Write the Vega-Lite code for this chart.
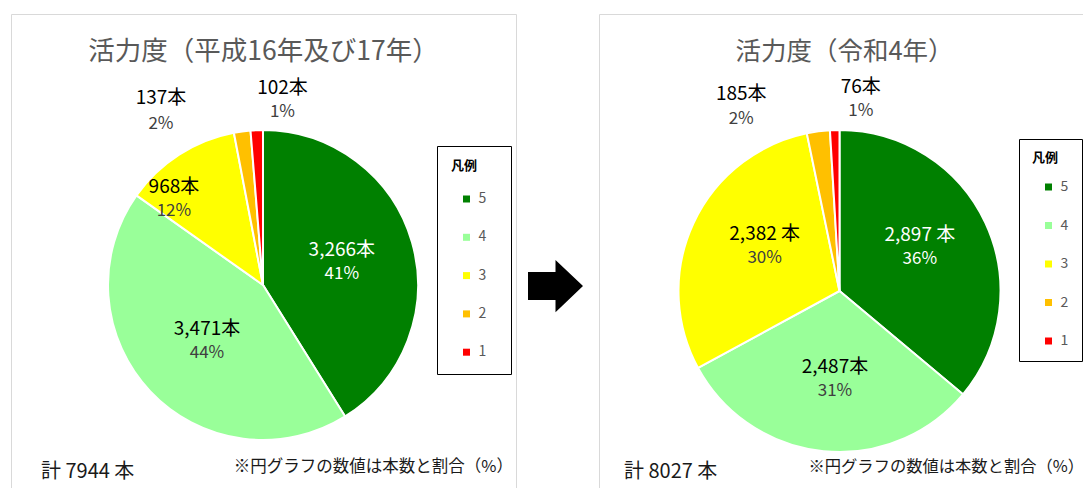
{
  "$schema": "https://vega.github.io/schema/vega-lite/v6.json",
  "padding": {"left": 10, "top": 13, "right": 0, "bottom": 0},
  "background": "white",
  "spacing": 0,
  "bounds": "flush",
  "config": {
    "font": "Noto Sans CJK JP",
    "view": {"stroke": "#d9d9d9", "strokeWidth": 1},
    "legend": {
      "titleFontSize": 13, "titleFontWeight": "bold", "titleColor": "black", "titleFont": "Noto Sans CJK JP",
      "labelFontSize": 14, "labelColor": "#595959", "labelFont": "Noto Sans CJK JP",
      "symbolType": "square", "symbolSize": 49, "symbolStrokeWidth": 0,
      "strokeColor": "black", "fillColor": "white", "labelOffset": 5
    }
  },
  "datasets": {
    "h16": [
      {"level": "5", "value": 3266, "count": "3,266本", "pct": "41%"},
      {"level": "4", "value": 3471, "count": "3,471本", "pct": "44%"},
      {"level": "3", "value": 968, "count": "968本", "pct": "12%"},
      {"level": "2", "value": 137, "count": "137本", "pct": "2%"},
      {"level": "1", "value": 102, "count": "102本", "pct": "1%"}
    ],
    "r4": [
      {"level": "5", "value": 2897, "count": "2,897 本", "pct": "36%"},
      {"level": "4", "value": 2487, "count": "2,487本", "pct": "31%"},
      {"level": "3", "value": 2382, "count": "2,382 本", "pct": "30%"},
      {"level": "2", "value": 185, "count": "185本", "pct": "2%"},
      {"level": "1", "value": 76, "count": "76本", "pct": "1%"}
    ]
  },
  "resolve": {"scale": {"color": "independent"}, "legend": {"color": "independent"}},
  "hconcat": [
    {
      "width": 505, "height": 475,
      "view": {"stroke": "#d9d9d9", "strokeWidth": 1},
      "title": {"text": "活力度（平成16年及び17年）", "fontSize": 26.5, "fontWeight": "normal", "color": "#595959", "anchor": "middle", "offset": -51, "font": "Noto Sans CJK JP"},
      "data": {"name": "h16"},
      "layer": [
        {
          "mark": {"type": "arc", "x": 252, "y": 271, "radius": 155, "stroke": "white", "strokeWidth": 2},
          "encoding": {
            "theta": {"field": "value", "type": "quantitative", "stack": true},
            "order": {"field": "level", "type": "ordinal", "sort": "descending"},
            "color": {"field": "level", "type": "nominal",
              "scale": {"domain": ["5", "4", "3", "2", "1"], "range": ["#008000", "#99ff99", "#ffff00", "#ffc000", "#ff0000"]},
              "legend": {"title": "凡例", "orient": "none", "legendX": 426, "legendY": 132, "padding": 14, "titlePadding": 19, "rowPadding": 24.3, "symbolOffset": 8.5, "labelExpr": "datum.label + '\u2800'"}}
          }
        },
        {
          "mark": {"type": "text", "x": 252, "y": 271, "fontSize": 19, "align": "center", "baseline": "middle",
            "radius": {"expr": "datum.level=='5'?82:datum.level=='4'?77:datum.level=='3'?124:datum.level=='2'?201:187"},
            "dx": {"expr": "datum.level=='3'?-22:datum.level=='2'?-75:datum.level=='1'?27:0"},
            "dy": {"expr": "-12+(datum.level=='3'?18:datum.level=='2'?24:datum.level=='1'?2:datum.level=='4'?3:0)"}},
          "encoding": {
            "theta": {"field": "value", "type": "quantitative", "stack": true},
            "order": {"field": "level", "type": "ordinal", "sort": "descending"},
            "text": {"field": "count"},
            "color": {"condition": {"test": "datum.level=='5'", "value": "white"}, "value": "black"}
          }
        },
        {
          "mark": {"type": "text", "x": 252, "y": 271, "fontSize": 17, "align": "center", "baseline": "middle",
            "radius": {"expr": "datum.level=='5'?82:datum.level=='4'?77:datum.level=='3'?124:datum.level=='2'?201:187"},
            "dx": {"expr": "datum.level=='3'?-22:datum.level=='2'?-75:datum.level=='1'?27:0"},
            "dy": {"expr": "12+(datum.level=='3'?18:datum.level=='2'?26:datum.level=='1'?2:datum.level=='4'?3:0)"}},
          "encoding": {
            "theta": {"field": "value", "type": "quantitative", "stack": true},
            "order": {"field": "level", "type": "ordinal", "sort": "descending"},
            "text": {"field": "pct"},
            "color": {"condition": {"test": "datum.level=='5'", "value": "white"}, "value": "#404040"}
          }
        },
        {
          "data": {"values": [{"t": "計 7944 本"}]},
          "mark": {"type": "text", "x": 30, "y": 458, "align": "left", "baseline": "middle", "fontSize": 20, "color": "#1a1a1a"},
          "encoding": {"text": {"field": "t"}}
        },
        {
          "data": {"values": [{"t": "※円グラフの数値は本数と割合（%）"}]},
          "mark": {"type": "text", "x": 502, "y": 453, "align": "right", "baseline": "middle", "fontSize": 16.5, "color": "#1a1a1a"},
          "encoding": {"text": {"field": "t"}}
        }
      ]
    },
    {
      "width": 83, "height": 475,
      "view": {"stroke": null},
      "data": {"values": [{"symbol": "arrow"}]},
      "mark": {"type": "point", "shape": "M-1,-0.51L0,-0.51L0,-0.95L1,0L0,0.95L0,0.51L-1,0.51Z", "size": 3025, "filled": true, "color": "black", "opacity": 1, "x": 39.5, "y": 272},
      "encoding": {}
    },
    {
      "width": 485, "height": 475,
      "view": {"stroke": "#d9d9d9", "strokeWidth": 1},
      "title": {"text": "活力度（令和4年）", "fontSize": 25.5, "fontWeight": "normal", "color": "#595959", "anchor": "middle", "offset": -51, "dx": 3, "font": "Noto Sans CJK JP"},
      "data": {"name": "r4"},
      "layer": [
        {
          "mark": {"type": "arc", "x": 240.5, "y": 277, "radius": 161, "stroke": "white", "strokeWidth": 2},
          "encoding": {
            "theta": {"field": "value", "type": "quantitative", "stack": true},
            "order": {"field": "level", "type": "ordinal", "sort": "descending"},
            "color": {"field": "level", "type": "nominal",
              "scale": {"domain": ["5", "4", "3", "2", "1"], "range": ["#008000", "#99ff99", "#ffff00", "#ffc000", "#ff0000"]},
              "legend": {"title": "凡例", "orient": "none", "legendX": 420, "legendY": 125, "padding": 13, "titlePadding": 15, "rowPadding": 24.5, "symbolOffset": 9.5}}
          }
        },
        {
          "mark": {"type": "text", "x": 240.5, "y": 277, "fontSize": 19, "align": "center", "baseline": "middle",
            "radius": {"expr": "datum.level=='5'?92:datum.level=='4'?86:datum.level=='3'?88:datum.level=='2'?200:193"},
            "dx": {"expr": "datum.level=='5'?-3:datum.level=='4'?4:datum.level=='3'?5:datum.level=='2'?-72:27"},
            "dy": {"expr": "-12+(datum.level=='5'?-5:datum.level=='4'?2:datum.level=='3'?-8:datum.level=='2'?13:1)"}},
          "encoding": {
            "theta": {"field": "value", "type": "quantitative", "stack": true},
            "order": {"field": "level", "type": "ordinal", "sort": "descending"},
            "text": {"field": "count"},
            "color": {"condition": {"test": "datum.level=='5'", "value": "white"}, "value": "black"}
          }
        },
        {
          "mark": {"type": "text", "x": 240.5, "y": 277, "fontSize": 17, "align": "center", "baseline": "middle",
            "radius": {"expr": "datum.level=='5'?92:datum.level=='4'?86:datum.level=='3'?88:datum.level=='2'?200:193"},
            "dx": {"expr": "datum.level=='5'?-3:datum.level=='4'?4:datum.level=='3'?5:datum.level=='2'?-72:27"},
            "dy": {"expr": "12+(datum.level=='5'?-5:datum.level=='4'?2:datum.level=='3'?-8:datum.level=='2'?14:1)"}},
          "encoding": {
            "theta": {"field": "value", "type": "quantitative", "stack": true},
            "order": {"field": "level", "type": "ordinal", "sort": "descending"},
            "text": {"field": "pct"},
            "color": {"condition": {"test": "datum.level=='5'", "value": "white"}, "value": "#404040"}
          }
        },
        {
          "data": {"values": [{"t": "計 8027 本"}]},
          "mark": {"type": "text", "x": 25, "y": 458, "align": "left", "baseline": "middle", "fontSize": 20, "color": "#1a1a1a"},
          "encoding": {"text": {"field": "t"}}
        },
        {
          "data": {"values": [{"t": "※円グラフの数値は本数と割合（%）"}]},
          "mark": {"type": "text", "x": 485, "y": 453, "align": "right", "baseline": "middle", "fontSize": 16.3, "color": "#1a1a1a"},
          "encoding": {"text": {"field": "t"}}
        }
      ]
    }
  ]
}
